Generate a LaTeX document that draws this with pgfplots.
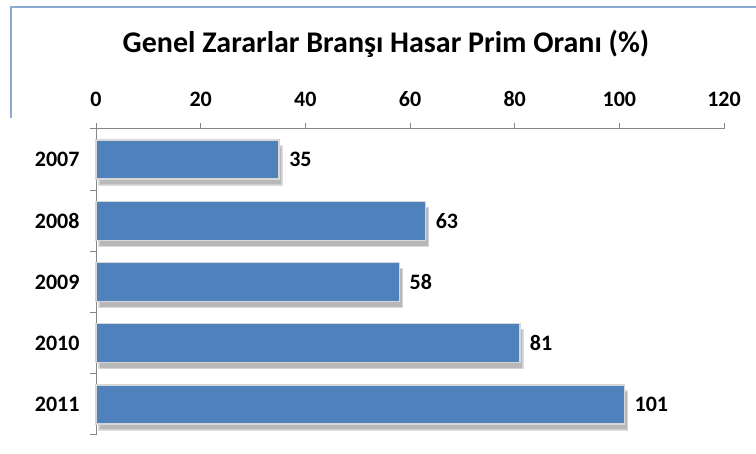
\documentclass[border=0pt]{standalone}
\usepackage{fontspec}
\setmainfont{Carlito}
\usepackage{pgfplots}
\pgfplotsset{compat=1.18}
\usetikzlibrary{shadows}
\definecolor{barblue}{RGB}{79,129,189}
\definecolor{axgray}{RGB}{134,134,134}
\definecolor{frameblue}{RGB}{140,170,210}
\definecolor{barrim}{RGB}{215,215,215}
\begin{document}
\begin{tikzpicture}
\useasboundingbox (0pt,0pt) rectangle (756pt,-454pt);
\draw[frameblue, line width=1.2pt] (11pt,-118pt) -- (11pt,-7pt) -- (756pt,-7pt);
\node[font=\bfseries\fontsize{30}{30}\selectfont, anchor=center] at (386pt,-44pt) {Genel Zararlar Branşı Hasar Prim Oranı (\%)};
\begin{axis}[
  at={(96pt,-129pt)}, anchor=north west,
  scale only axis, width=628pt, height=306pt,
  xmin=0, xmax=120, ymin=-0.5, ymax=4.5,
  xbar, bar width=39pt,
  axis x line*=top, axis y line*=left,
  axis line style={axgray, line width=1pt},
  tick style={axgray, line width=1pt},
  tick align=outside, major tick length=6pt,
  xtick={0,20,...,120},
  ytick={-0.5,0.5,1.5,2.5,3.5,4.5}, yticklabels={},
  extra y ticks={0,1,2,3,4},
  extra y tick labels={2011,2010,2009,2008,2007},
  extra y tick style={major tick length=0pt},
  tick label style={font=\bfseries\fontsize{22}{22}\selectfont},
  xticklabel style={yshift=13pt},
  yticklabel style={xshift=-13pt},
  /pgf/number format/assume math mode=true,
  clip=false,
]
\addplot[fill=barblue, draw=barrim, line width=1.5pt,
  drop shadow={shadow xshift=3pt, shadow yshift=-6pt, fill=gray!70, opacity=0.8},
  nodes near coords, nodes near coords align={horizontal},
  every node near coord/.append style={font=\bfseries\fontsize{22}{22}\selectfont, black, xshift=6pt},
  point meta=x]
coordinates {(35,4) (63,3) (58,2) (81,1) (101,0)};
\end{axis}
\end{tikzpicture}
\end{document}
